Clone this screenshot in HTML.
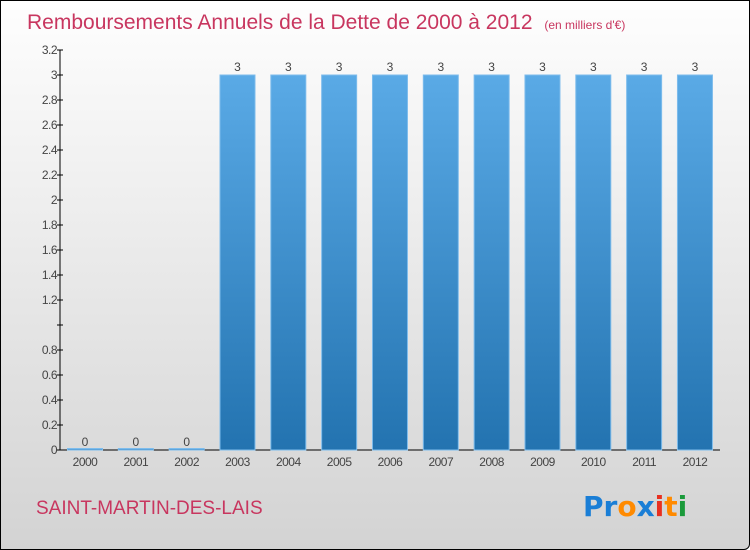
<!DOCTYPE html>
<html><head><meta charset="utf-8"><style>
body{margin:0;width:750px;height:550px;overflow:hidden;font-family:"Liberation Sans",sans-serif}
#frame{position:absolute;left:0;top:0;width:748px;height:548px;border:1px solid #000;border-radius:0 0 6px 0;background:linear-gradient(#fefefe,#d3d3d3)}
</style></head><body>
<div id="frame"></div>
<svg id="c" width="750" height="550" style="position:absolute;left:0;top:0">
<defs><linearGradient id="bg" x1="0" y1="0" x2="0" y2="1"><stop offset="0" stop-color="#5aaae6"/><stop offset="1" stop-color="#2373b0"/></linearGradient></defs>
<text x="27" y="29" font-size="21" fill="#c8365f">Remboursements Annuels de la Dette de 2000 à 2012 <tspan font-size="12" dx="6">(en milliers d'€)</tspan></text>
<text x="36" y="514" font-size="19" fill="#c8365f">SAINT-MARTIN-DES-LAIS</text>
<text x="583" y="516" font-size="28" font-weight="bold" font-family="DejaVu Sans, sans-serif"><tspan fill="#1a7ed6">Pr</tspan><tspan fill="#ff8a00">o</tspan><tspan fill="#1a7ed6">x</tspan><tspan fill="#e83020">i</tspan><tspan fill="#ff8a00">t</tspan><tspan fill="#1a9a3a">i</tspan></text>
<g id="g"></g>
</svg>
<script>
const years=["2000","2001","2002","2003","2004","2005","2006","2007","2008","2009","2010","2011","2012"];
const values=[0,0,0,3,3,3,3,3,3,3,3,3,3];
const ticks=[0,0.2,0.4,0.6,0.8,1,1.2,1.4,1.6,1.8,2,2.2,2.4,2.6,2.8,3,3.2];
const tickLabels=["0","0.2","0.4","0.6","0.8","","1.2","1.4","1.6","1.8","2","2.2","2.4","2.6","2.8","3","3.2"];
const NS="http://www.w3.org/2000/svg",g=document.getElementById('g');
const y=v=>450-v*125, x=i=>85+i*50.83;
function mk(t,a,txt){const e=document.createElementNS(NS,t);for(const k in a)e.setAttribute(k,a[k]);if(txt!=null)e.textContent=txt;g.appendChild(e);return e;}
let ax=mk('line',{x1:60,y1:50,x2:60,y2:450,stroke:'#000'});


let bx=mk('line',{x1:60,y1:450,x2:720,y2:450,stroke:'#000'});


ticks.forEach((t,i)=>{
 let l=mk('line',{x1:57,x2:63,y1:y(t),y2:y(t),stroke:'#000'});
 
 
 let tx=mk('text',{x:57,y:y(t)+4,'text-anchor':'end','font-size':12,fill:'#444','letter-spacing':'-0.5'},tickLabels[i]);
 
 
});
values.forEach((v,i)=>{
 const cx=x(i),top=y(v),h=Math.max(450-top,1.5);
 let r=mk('rect',{x:cx-17.5,y:450-h,width:35,height:h,fill:'url(#bg)',stroke:'#7dbcec','stroke-width':1});
 
 
 let vl=mk('text',{x:cx,y:top-4,'text-anchor':'middle','font-size':12,fill:'#444'},String(v));
 
 
 let xl=mk('text',{x:cx,y:466,'text-anchor':'middle','font-size':12,fill:'#444','letter-spacing':'-0.5'},years[i]);
 
 
});
</script>
</body></html>
